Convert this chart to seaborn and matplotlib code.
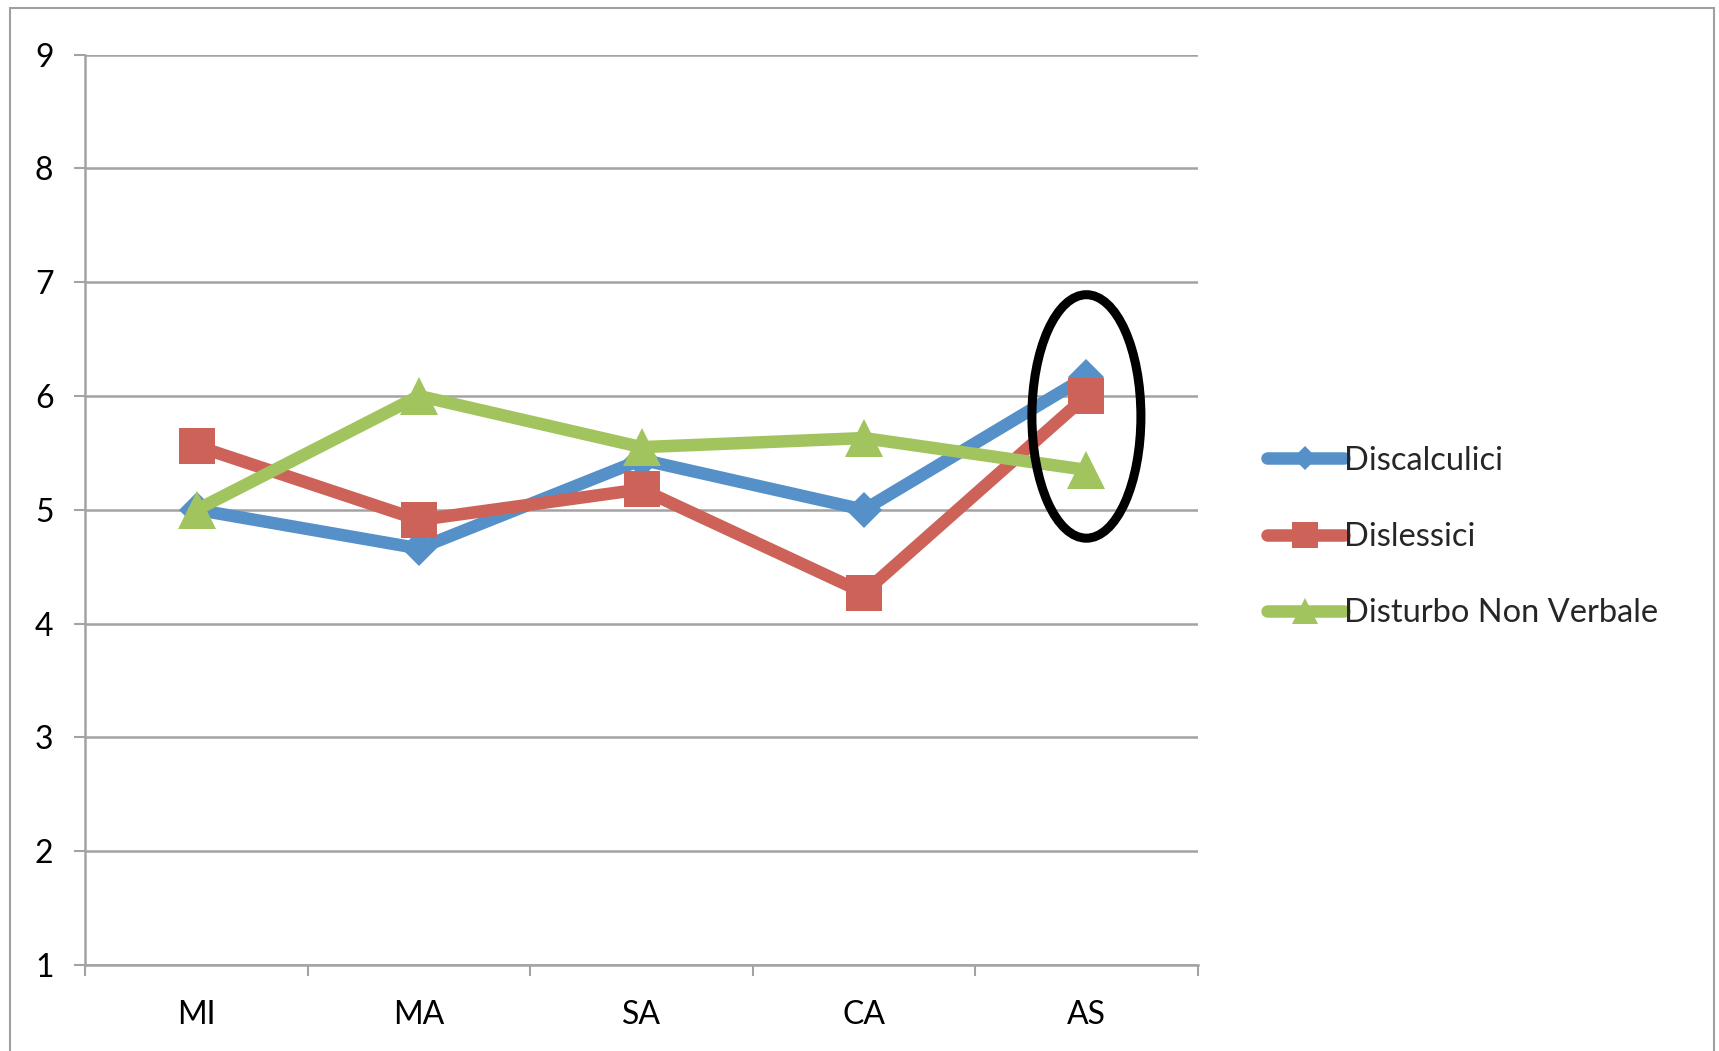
import matplotlib
matplotlib.use("Agg")
import matplotlib.pyplot as plt
import seaborn as sns
from matplotlib.patches import Ellipse, Rectangle

# Data
categories = ["MI", "MA", "SA", "CA", "AS"]
discalculici = [5.0, 4.66, 5.44, 5.0, 6.17]
dislessici = [5.56, 4.91, 5.18, 4.27, 6.0]
disturbo_non_verbale = [5.0, 6.0, 5.55, 5.63, 5.35]
series_names = ["Discalculici", "Dislessici", "Disturbo Non Verbale"]
y_ticks = [1, 2, 3, 4, 5, 6, 7, 8, 9]

# Highlight ellipse around the last category
highlight_center = (4, 5.82)
highlight_size = (0.49, 2.14)

sns.set_style("white")
plt.rcParams["font.family"] = ["Lato", "DejaVu Sans"]

fig = plt.figure(figsize=(17.19, 10.51), dpi=100)
ax = fig.add_axes([0.0497, 0.082, 0.647, 0.866])

grid_color = "#a3a3a3"
series = [
    (series_names[0], discalculici, "#5591c8", "D", 18),
    (series_names[1], dislessici, "#cc6258", "s", 26),
    (series_names[2], disturbo_non_verbale, "#a2c45e", "^", 27),
]

for name, vals, color, marker, ms in series:
    sns.lineplot(x=categories, y=vals, ax=ax, color=color, lw=9,
                 marker=marker, markersize=ms, markeredgewidth=0,
                 label=name, sort=False, solid_capstyle="round",
                 clip_on=False, zorder=3)

ax.set_xlim(-0.5, 4.5)
ax.set_ylim(1, 9)
ax.set_yticks(y_ticks)
ax.set_xticks(range(len(categories)))
ax.set_xticklabels(categories)
ax.set_xticks([i - 0.5 for i in range(len(categories) + 1)], minor=True)

ax.yaxis.grid(True, color=grid_color, lw=1.8)
ax.xaxis.grid(False)
for side in ["top", "right"]:
    ax.spines[side].set_visible(False)
for side in ["left", "bottom"]:
    ax.spines[side].set_color(grid_color)
    ax.spines[side].set_linewidth(1.8)

ax.tick_params(axis="y", which="major", direction="out", length=8, width=1.5,
               color=grid_color, pad=15, labelsize=23, labelcolor="black", left=True)
ax.tick_params(axis="x", which="major", length=0, pad=25, labelsize=23,
               labelcolor="black")
ax.tick_params(axis="x", which="minor", direction="out", length=8, width=1.5,
               color=grid_color, bottom=True)
ax.set_xlabel("")
ax.set_ylabel("")

ax.add_patch(Ellipse(highlight_center, highlight_size[0], highlight_size[1],
                     fill=False, ec="black", lw=6.5, zorder=5, clip_on=False))

handles, labels = ax.get_legend_handles_labels()
ax.legend(handles, labels, loc="center left", bbox_to_anchor=(0.737, 0.489),
          bbox_transform=fig.transFigure, frameon=False, fontsize=23.5,
          handlelength=2.35, handletextpad=0.0, labelspacing=1.42,
          borderpad=0, borderaxespad=0, markerscale=0.7)

# Chart area frame
fig.add_artist(Rectangle((10 / 1719, -0.05), (1714 - 10) / 1719, 1 - 8 / 1051 + 0.05,
                         transform=fig.transFigure, fill=False, ec="#a0a0a0", lw=1.5))

fig.savefig("out.png", dpi=100)
